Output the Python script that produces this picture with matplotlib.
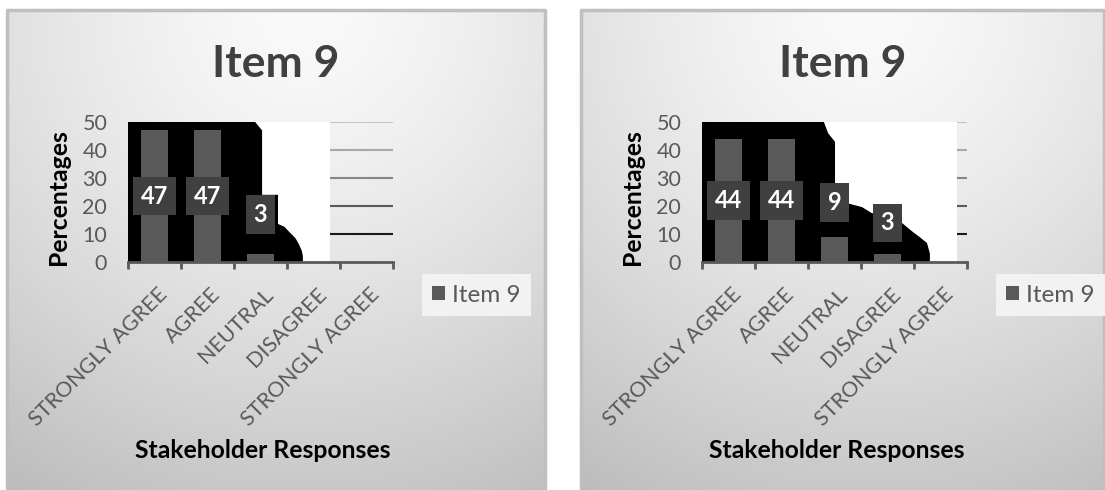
import matplotlib.pyplot as plt
from matplotlib.patches import Rectangle, Polygon
from matplotlib.transforms import ScaledTranslation, blended_transform_factory
import numpy as np

plt.rcParams['font.family'] = ['Lato', 'DejaVu Sans']

# chart data
categories = ['STRONGLY AGREE', 'AGREE', 'NEUTRAL', 'DISAGREE', 'STRONGLY AGREE']
series_name = 'Item 9'
left_values = [47, 47, 3, 0, 0]
right_values = [44, 44, 9, 3, 0]

W, H = 1105, 490
GRID_COLORS = ['#1a1a1a', '#5a5a5a', '#858585', '#a8a8a8', '#c4c4c4']


def fx(px):
    return px / W


def fy(py):
    return 1 - py / H


def panel_background(fig, x0, x1):
    bg = fig.add_axes([fx(x0), 0, (x1 - x0) / W, (H - 10) / H])
    w, h = x1 - x0, H - 10
    xs, ys = np.meshgrid(np.arange(w), np.arange(h))
    r = np.hypot(xs - 0.55 * w, ys) / 480.0
    v = np.clip(250 - 50 * r ** 1.4, 0, 255) / 255.0
    bg.imshow(np.dstack([v, v, v]), extent=[0, 1, 0, 1], aspect='auto',
              interpolation='bilinear')
    bg.plot([0, 0, 1, 1], [0, 1, 1, 0], color='#bfbfbf', lw=2.5,
            transform=bg.transAxes, clip_on=False)
    bg.set_xlim(0, 1)
    bg.set_ylim(0, 1)
    bg.axis('off')
    return bg


def draw_panel(fig, x0, x1, ax_left, values, label_y, shadow, white_edge):
    panel_background(fig, x0, x1)
    fig.text(fx((x0 + x1) / 2), fy(77), 'Item 9', ha='center', va='baseline',
             fontsize=32, fontweight='bold', color='#404040')

    ax = fig.add_axes([fx(ax_left), fy(262), 265 / W, 140 / H])
    ax.set_facecolor('none')
    x = np.arange(len(categories))

    for lvl, c in zip(range(10, 60, 10), GRID_COLORS):
        ax.axhline(lvl, color=c, lw=1.5, zorder=1)
    # white patch and black shading behind the bars
    ax.add_patch(Rectangle((-0.5, 0), white_edge + 0.5, 50, fc='white',
                           lw=0, zorder=2))
    ax.add_patch(Polygon(shadow, closed=True, fc='black', lw=0, zorder=3))

    bars = ax.bar(x, values, width=0.5, color='#595959', zorder=4,
                  label=series_name)
    for i, (v, ly) in enumerate(zip(values, label_y)):
        if ly is None:
            continue
        ax.text(i, ly, str(v), ha='center', va='center', color='white',
                fontsize=17, fontweight='bold', zorder=6,
                bbox=dict(boxstyle='square,pad=0.33', fc='#404040', ec='none'))

    ax.set_xlim(-0.5, 4.5)
    ax.set_ylim(0, 50)
    for s in ['top', 'right', 'left']:
        ax.spines[s].set_visible(False)
    ax.spines['bottom'].set_color('#595959')
    ax.spines['bottom'].set_linewidth(2)
    ax.spines['bottom'].set_zorder(5)

    # boundary ticks under the axis, category names drawn as rotated text
    ax.set_xticks(np.arange(-0.5, 5, 1))
    ax.tick_params(axis='x', length=5, width=2, color='#595959',
                   direction='out', labelbottom=False)
    trans = (blended_transform_factory(ax.transData, ax.transAxes)
             + ScaledTranslation(0.03, -0.22, fig.dpi_scale_trans))
    for i, cat in enumerate(categories):
        ax.text(i, 0, cat, transform=trans, rotation=45, ha='right', va='top',
                rotation_mode='anchor', fontsize=15.5, color='#595959')

    ax.set_yticks(range(0, 51, 10))
    ax.tick_params(axis='y', length=0, pad=15, labelsize=15.5,
                   labelcolor='#595959')

    ax.text(-69 / 265, 0.464, 'Percentages', rotation=90, ha='center',
            va='center', fontsize=17.8, fontweight='bold', color='black',
            transform=ax.transAxes)
    ax.text(0.51, -1.343, 'Stakeholder Responses', ha='center', va='center',
            fontsize=17.8, fontweight='bold', color='black',
            transform=ax.transAxes)

    ax.legend(handles=[bars], loc='center left',
              bbox_to_anchor=((422 - 128) / 265, (262 - 295) / 140),
              fontsize=17.5, labelcolor='#595959', frameon=True,
              fancybox=False, framealpha=1, facecolor='#f2f2f2',
              edgecolor='none', borderpad=0.42, borderaxespad=0,
              handlelength=0.53, handleheight=0.53, handletextpad=0.3)
    return ax


fig = plt.figure(figsize=(W / 100, H / 100), dpi=100)
fig.patch.set_facecolor('white')

left_shadow = [(-0.5, 0), (-0.5, 50), (1.9, 50), (1.95, 48.8), (2.03, 47),
               (2.03, 24), (2.33, 24), (2.33, 13.6), (2.45, 12.6),
               (2.56, 10.4), (2.66, 8.5), (2.72, 6.5), (2.78, 4), (2.8, 2),
               (2.8, 0)]
right_shadow = [(-0.5, 0), (-0.5, 50), (1.8, 50), (1.88, 46), (2.01, 42.9),
                (2.01, 21), (2.24, 21), (2.52, 19.6), (2.7, 17.5),
                (3.25, 15), (3.25, 14.3), (3.48, 10.7), (3.6, 9),
                (3.745, 6.8), (3.8, 3), (3.8, 0)]

draw_panel(fig, 7, 545, 128, left_values, [23.5, 23.5, 17, None, None],
           left_shadow, 3.31)
draw_panel(fig, 581, 1104, 702, right_values, [22, 22, 21.25, 14, None],
           right_shadow, 4.31)

fig.savefig('out.png', dpi=100)
